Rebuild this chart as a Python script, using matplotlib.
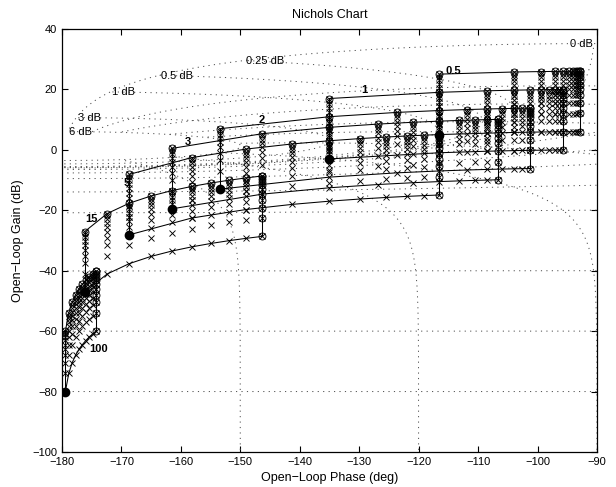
import numpy as np
import matplotlib.pyplot as plt

plt.rcParams['font.family'] = ['Liberation Sans', 'DejaVu Sans']
plt.rcParams['font.size'] = 8

# QFT templates of the uncertain plant P(s) = k / (s (s/a + 1))
freqs = [0.5, 1, 2, 3, 5, 15, 100]          # rad/s
gains_k = [1, 2, 3, 4, 5, 6, 7, 8, 9, 10]
poles_a = [1, 2, 3, 4, 5, 6, 7, 8, 9, 10]

freq_labels = ['0.5', '1', '2', '3', '5', '15', '100']
label_phase = [-114.2, -129.2, -146.4, -158.8, -169.1, -175.0, -173.9]
label_gain = [26.2, 19.8, 9.9, 2.7, -11.1, -23.0, -66.0]

# Nichols grid: closed-loop gain (dB) and phase (deg) loci
cl_gain_db = [6, 3, 1, 0.5, 0.25, 0, -1, -3, -6, -12, -20, -40, -60, -80]
cl_phase_deg = [-1, -5, -10, -20, -30, -50, -90, -120, -150]
grid_text = ['6 dB', '3 dB', '1 dB', '0.5 dB', '0.25 dB', '0 dB']
grid_text_phase = [-178.9, -177.3, -171.5, -163.4, -149.1, -94.6]
grid_text_gain = [6.0, 10.6, 19.1, 24.4, 29.5, 35.0]


def nichols(L):
    ph = np.degrees(np.angle(L))
    ph = np.where(ph > 0, ph - 360, ph)
    db = 20*np.log10(np.abs(L))
    ph = np.where((ph < -200) | (ph > -70), np.nan, ph)
    return ph, db


fig = plt.figure(figsize=(6.16, 4.87), dpi=100)
ax = fig.add_axes([0.1006, 0.0719, 0.8685, 0.8686])

dots = (0, (1.2, 4.4))
gcol = '0.3'
# constant closed-loop gain, closed-loop phase from -1 to -359 deg
psi = np.radians(np.linspace(-359, -1, 6000))
for m in cl_gain_db:
    T = 10**(m/20)*np.exp(1j*psi)
    x, y = nichols(T/(1 - T))
    ax.plot(x, y, color=gcol, lw=0.7, ls=dots)
# constant closed-loop phase, closed-loop gain up to 6 dB
t = np.logspace(-6, np.log10(2), 20000)
for p in cl_phase_deg:
    T = t*np.exp(1j*np.radians(p))
    x, y = nichols(T/(1 - T))
    ax.plot(x, y, color=gcol, lw=0.7, ls=dots)
for s_, xx, yy in zip(grid_text, grid_text_phase, grid_text_gain):
    ax.text(xx, yy, s_, ha='left', va='center', fontsize=8)

# plant frequency response on the parameter grid
w = np.array(freqs)[:, None, None]
K = np.array(gains_k)[None, :, None]
A = np.array(poles_a)[None, None, :]
P = K/(1j*w*(1j*w/A + 1))
ph = np.degrees(np.angle(P))
db = 20*np.log10(np.abs(P))

for i in range(len(freqs)):
    x, y = ph[i], db[i]
    # edges of the template
    ax.plot(x[0, :], y[0, :], 'k-', lw=0.75)
    ax.plot(x[-1, :], y[-1, :], 'k-', lw=0.75)
    ax.plot(x[:, 0], y[:, 0], 'k-', lw=0.75)
    ax.plot(x[:, -1], y[:, -1], 'k-', lw=0.75)
    ax.plot(x.ravel(), y.ravel(), 'kx', ms=4.2, mew=0.65)
    ax.plot(x[-1, :], y[-1, :], 'o', mfc='none', mec='k', ms=5, mew=0.65)
    ax.plot(x[:, -1], y[:, -1], 'o', mfc='none', mec='k', ms=5, mew=0.65)
    ax.plot(x[0, 0], y[0, 0], 'ko', ms=6)

for s_, xx, yy in zip(freq_labels, label_phase, label_gain):
    ax.text(xx, yy, s_, ha='center', va='center', fontsize=8, fontweight='bold')

ax.set_xlim(-180, -90)
ax.set_ylim(-100, 40)
ax.set_xticks(np.arange(-180, -89, 10))
ax.set_yticks(np.arange(-100, 41, 20))
ax.tick_params(direction='in', top=True, right=True, length=4, width=0.8, labelsize=8)
for sp in ax.spines.values():
    sp.set_linewidth(0.9)
ax.set_xlabel('Open\u2212Loop Phase (deg)', fontsize=9, labelpad=4)
ax.set_ylabel('Open\u2212Loop Gain (dB)', fontsize=9, labelpad=6)
ax.set_title('Nichols Chart', fontsize=9, pad=8)

fig.savefig('out.png', dpi=100)
